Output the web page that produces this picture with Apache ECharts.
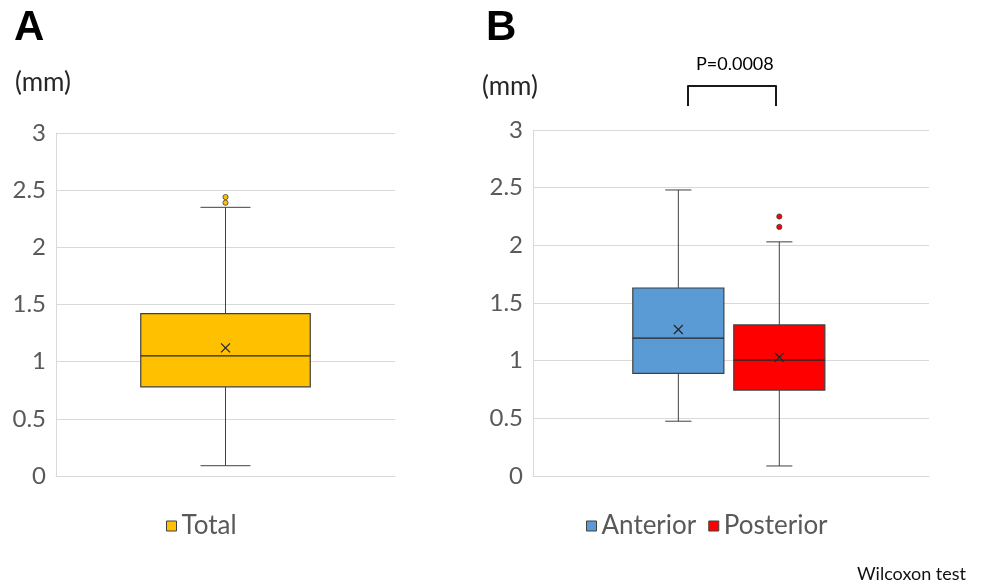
<!DOCTYPE html>
<html>
<head>
<meta charset="utf-8">
<script src="https://cdn.jsdelivr.net/npm/echarts@6/dist/echarts.min.js"></script>
<style>
html, body { margin: 0; padding: 0; background: #fff; }
#chart { width: 981px; height: 585px; }
</style>
</head>
<body>
<div id="chart"></div>
<script>
// box stats: [min, Q1, median, Q3, max, mean]  (mm)
const totalBox = [0.09, 0.78, 1.05, 1.42, 2.35, 1.12]
const totalOutliers = [2.44, 2.39]
const anteriorBox = [0.475, 0.89, 1.195, 1.63, 2.48, 1.27]
const anteriorOutliers = []
const posteriorBox = [0.087, 0.745, 1.005, 1.31, 2.03, 1.03]
const posteriorOutliers = [2.25, 2.16]
const categoriesA = ['Total']
const categoriesB = ['Anterior / Posterior']
const yTicks = [0, 0.5, 1, 1.5, 2, 2.5, 3]

const font = 'Lato, "Open Sans", sans-serif'
const edge = '#404040'

// draws one box-and-whisker on a category band, shifted by offset (fraction of band)
function boxRenderer(offset, widthFrac, capFrac) {
  return function (params, api) {
    const cat = api.value(0)
    const band = api.size([1, 0])[0]
    const w = band * widthFrac
    const cap = band * capFrac
    const cx = api.coord([cat, 0])[0] + band * offset
    const y = i => api.coord([cat, api.value(i)])[1]
    const yMin = y(1), yQ1 = y(2), yMed = y(3), yQ3 = y(4), yMax = y(5), yMean = y(6)
    const ls = { stroke: edge, lineWidth: 1 }
    const m = 4.5
    return {
      type: 'group',
      children: [
        { type: 'line', shape: { x1: cx, y1: yMax, x2: cx, y2: yQ3 }, style: ls },
        { type: 'line', shape: { x1: cx, y1: yQ1, x2: cx, y2: yMin }, style: ls },
        { type: 'line', shape: { x1: cx - cap / 2, y1: yMax, x2: cx + cap / 2, y2: yMax }, style: ls },
        { type: 'line', shape: { x1: cx - cap / 2, y1: yMin, x2: cx + cap / 2, y2: yMin }, style: ls },
        { type: 'rect', shape: { x: cx - w / 2, y: yQ3, width: w, height: yQ1 - yQ3 },
          style: { fill: api.visual('color'), stroke: edge, lineWidth: 1.2 } },
        { type: 'line', shape: { x1: cx - w / 2, y1: yMed, x2: cx + w / 2, y2: yMed }, style: { stroke: '#262626', lineWidth: 1.2 } },
        { type: 'line', shape: { x1: cx - m, y1: yMean - m, x2: cx + m, y2: yMean + m }, style: { stroke: '#262626', lineWidth: 1.2 } },
        { type: 'line', shape: { x1: cx - m, y1: yMean + m, x2: cx + m, y2: yMean - m }, style: { stroke: '#262626', lineWidth: 1.2 } }
      ]
    }
  }
}

function outlierRenderer(offset) {
  return function (params, api) {
    const band = api.size([1, 0])[0]
    const p = api.coord([api.value(0), api.value(1)])
    return {
      type: 'circle',
      shape: { cx: p[0] + band * offset, cy: p[1], r: 2.6 },
      style: { fill: api.visual('color'), stroke: edge, lineWidth: 0.8 }
    }
  }
}

const yAxisBase = gridIndex => ({
  type: 'value',
  gridIndex,
  min: yTicks[0],
  max: yTicks[yTicks.length - 1],
  interval: yTicks[1] - yTicks[0],
  axisLine: { show: true, lineStyle: { color: '#d9d9d9' } },
  axisTick: { show: false },
  splitLine: { lineStyle: { color: '#d9d9d9' } },
  axisLabel: { color: '#595959', fontSize: 24, fontFamily: font, margin: 10 }
})

const xAxisBase = (gridIndex, data) => ({
  type: 'category',
  gridIndex,
  data,
  axisLine: { show: true, lineStyle: { color: '#d9d9d9' } },
  axisTick: { show: false },
  axisLabel: { show: false }
})

const legendItem = (name, color) => ({
  name,
  icon: 'rect',
  itemStyle: { color, borderColor: edge, borderWidth: 1 }
})

const options = {
  animation: false,
  backgroundColor: '#fff',
  grid: [
    { left: 56, top: 133, width: 339, height: 343 },
    { left: 533, top: 130, width: 396, height: 346 }
  ],
  xAxis: [xAxisBase(0, categoriesA), xAxisBase(1, categoriesB)],
  yAxis: [yAxisBase(0), yAxisBase(1)],
  legend: [
    {
      left: 161, top: 508,
      itemWidth: 10, itemHeight: 10, itemGap: 12,
      textStyle: { color: '#595959', fontSize: 26, fontFamily: font },
      data: [legendItem('Total', '#FFC000')]
    },
    {
      left: 581, top: 508,
      itemWidth: 10, itemHeight: 10, itemGap: 12,
      textStyle: { color: '#595959', fontSize: 26, fontFamily: font },
      data: [legendItem('Anterior', '#5B9BD5'), legendItem('Posterior', '#FF0000')]
    }
  ],
  series: [
    {
      name: 'Total', type: 'custom', xAxisIndex: 0, yAxisIndex: 0,
      itemStyle: { color: '#FFC000' },
      renderItem: boxRenderer(0, 0.5, 0.1475),
      data: [[0, ...totalBox]]
    },
    {
      name: 'Total', type: 'custom', xAxisIndex: 0, yAxisIndex: 0,
      itemStyle: { color: '#FFC000' },
      renderItem: outlierRenderer(0),
      data: totalOutliers.map(v => [0, v])
    },
    {
      name: 'Anterior', type: 'custom', xAxisIndex: 1, yAxisIndex: 1,
      itemStyle: { color: '#5B9BD5' },
      renderItem: boxRenderer(-0.133, 0.23, 0.066),
      data: [[0, ...anteriorBox]]
    },
    {
      name: 'Anterior', type: 'custom', xAxisIndex: 1, yAxisIndex: 1,
      itemStyle: { color: '#5B9BD5' },
      renderItem: outlierRenderer(-0.133),
      data: anteriorOutliers.map(v => [0, v])
    },
    {
      name: 'Posterior', type: 'custom', xAxisIndex: 1, yAxisIndex: 1,
      itemStyle: { color: '#FF0000' },
      renderItem: boxRenderer(0.122, 0.23, 0.066),
      data: [[0, ...posteriorBox]]
    },
    {
      name: 'Posterior', type: 'custom', xAxisIndex: 1, yAxisIndex: 1,
      itemStyle: { color: '#FF0000' },
      renderItem: outlierRenderer(0.122),
      data: posteriorOutliers.map(v => [0, v])
    }
  ],
  graphic: [
    { type: 'text', left: 14, top: 7, style: { text: 'A', font: 'bold 42px "Liberation Sans", Arial, sans-serif', fill: '#000' } },
    { type: 'text', left: 486, top: 7, style: { text: 'B', font: 'bold 42px "Liberation Sans", Arial, sans-serif', fill: '#000' } },
    { type: 'text', left: 15, top: 70, style: { text: '(mm)', font: '26px ' + font, fill: '#262626' } },
    { type: 'text', left: 482, top: 74, style: { text: '(mm)', font: '26px ' + font, fill: '#262626' } },
    { type: 'text', left: 696, top: 55, style: { text: 'P=0.0008', font: '18px ' + font, fill: '#000' } },
    {
      type: 'polyline',
      shape: { points: [[688, 106], [688, 86], [776, 86], [776, 106]] },
      style: { stroke: '#1a1a1a', lineWidth: 2, fill: null, lineJoin: 'round' }
    },
    { type: 'text', left: 857, top: 565, style: { text: 'Wilcoxon test', font: '18px ' + font, fill: '#111' } }
  ]
}

const chart = echarts.init(document.getElementById('chart'))
chart.setOption(options)
window.addEventListener('resize', () => chart.resize())
</script>
</body>
</html>
